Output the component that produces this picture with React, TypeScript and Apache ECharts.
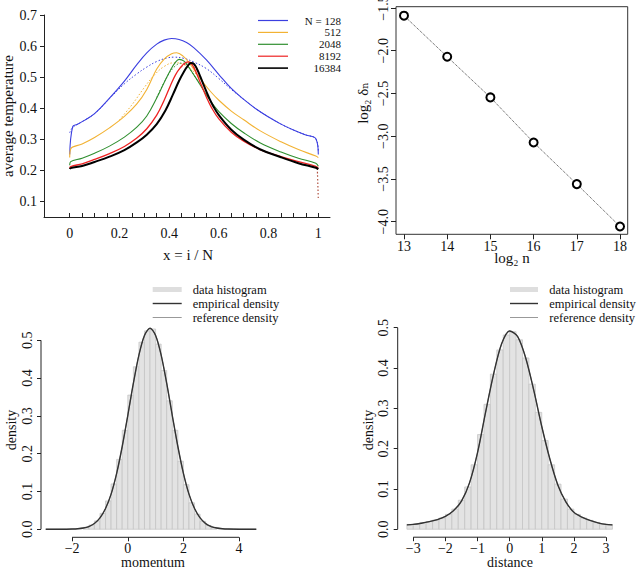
import React, { useEffect, useRef } from "react";
import * as echarts from "echarts";

const SERIF = "'Liberation Serif', 'DejaVu Serif', 'Times New Roman', serif";

// ---------- Panel A: average temperature profiles ----------
const tempLegendLabels = ["N = 128", "512", "2048", "8192", "16384"];
const tempColors = ["#3b3fe0", "#f2b233", "#2f8f2f", "#ee2222", "#000000"];
const tempXTicks = [0, 0.05, 0.1, 0.15, 0.2, 0.25, 0.3, 0.35, 0.4, 0.45, 0.5, 0.55, 0.6, 0.65, 0.7, 0.75, 0.8, 0.85, 0.9, 0.95, 1];
const tempXLabels = [0, 0.2, 0.4, 0.6, 0.8, 1];
const tempYTicks = [0.1, 0.2, 0.3, 0.4, 0.5, 0.6, 0.7];

const temp128 = [[0, 0.25], [0.012, 0.34], [0.03, 0.347], [0.05, 0.356], [0.1, 0.382], [0.16, 0.432], [0.22, 0.487], [0.27, 0.54], [0.31, 0.578], [0.35, 0.606], [0.38, 0.619], [0.41, 0.624], [0.44, 0.621], [0.47, 0.611], [0.5, 0.594], [0.55, 0.555], [0.6, 0.508], [0.65, 0.463], [0.7, 0.428], [0.75, 0.397], [0.8, 0.371], [0.85, 0.348], [0.9, 0.329], [0.95, 0.313], [0.99, 0.301], [1, 0.25]];
const temp128Ref = [[0, 0.32], [0.012, 0.337], [0.05, 0.356], [0.1, 0.382], [0.16, 0.43], [0.22, 0.478], [0.27, 0.51], [0.31, 0.532], [0.35, 0.55], [0.39, 0.561], [0.42, 0.564], [0.46, 0.56], [0.5, 0.548], [0.55, 0.527], [0.6, 0.495], [0.65, 0.46], [0.7, 0.428], [0.75, 0.397], [0.8, 0.371], [0.85, 0.348], [0.9, 0.329], [0.95, 0.313], [0.99, 0.301], [1, 0.26]];
const temp512 = [[0, 0.24], [0.004, 0.268], [0.05, 0.284], [0.1, 0.305], [0.16, 0.336], [0.22, 0.373], [0.27, 0.413], [0.31, 0.46], [0.35, 0.526], [0.38, 0.558], [0.41, 0.575], [0.43, 0.578], [0.455, 0.568], [0.48, 0.546], [0.51, 0.512], [0.54, 0.479], [0.57, 0.45], [0.6, 0.425], [0.65, 0.39], [0.7, 0.362], [0.765, 0.327], [0.85, 0.291], [0.92, 0.266], [0.99, 0.245], [1, 0.24]];
const temp512Ref = [[0.2, 0.362], [0.25, 0.41], [0.3, 0.466], [0.34, 0.506], [0.38, 0.534], [0.42, 0.546], [0.45, 0.543], [0.48, 0.53], [0.51, 0.508], [0.54, 0.478]];
const temp2048 = [[0, 0.215], [0.004, 0.227], [0.05, 0.238], [0.1, 0.254], [0.16, 0.277], [0.22, 0.306], [0.27, 0.338], [0.31, 0.374], [0.35, 0.432], [0.38, 0.482], [0.405, 0.522], [0.425, 0.547], [0.44, 0.557], [0.46, 0.551], [0.48, 0.53], [0.51, 0.494], [0.54, 0.455], [0.57, 0.418], [0.6, 0.388], [0.65, 0.35], [0.7, 0.32], [0.765, 0.288], [0.85, 0.258], [0.92, 0.238], [0.99, 0.222], [1, 0.212]];
const temp2048Ref = [[0.35, 0.434], [0.39, 0.498], [0.42, 0.532], [0.45, 0.545], [0.47, 0.54], [0.49, 0.518], [0.52, 0.48]];
const temp8192 = [[0, 0.205], [0.004, 0.211], [0.05, 0.22], [0.1, 0.234], [0.16, 0.253], [0.22, 0.276], [0.27, 0.303], [0.31, 0.333], [0.35, 0.377], [0.38, 0.425], [0.405, 0.472], [0.425, 0.506], [0.445, 0.53], [0.465, 0.546], [0.48, 0.549], [0.495, 0.537], [0.51, 0.512], [0.53, 0.473], [0.55, 0.435], [0.57, 0.402], [0.6, 0.365], [0.65, 0.322], [0.7, 0.293], [0.765, 0.266], [0.85, 0.243], [0.92, 0.227], [0.99, 0.212], [1, 0.205]];
const temp8192Ref = [[0.44, 0.524], [0.47, 0.542], [0.49, 0.54], [0.51, 0.514]];
const temp8192RefTail = [[0.996, 0.205], [1, 0.105]];
const temp16384 = [[0, 0.203], [0.004, 0.206], [0.05, 0.213], [0.1, 0.226], [0.16, 0.243], [0.22, 0.264], [0.27, 0.289], [0.31, 0.314], [0.35, 0.348], [0.385, 0.392], [0.415, 0.443], [0.44, 0.488], [0.46, 0.518], [0.475, 0.536], [0.488, 0.545], [0.5, 0.542], [0.512, 0.526], [0.525, 0.502], [0.54, 0.472], [0.558, 0.438], [0.578, 0.405], [0.6, 0.377], [0.65, 0.33], [0.7, 0.298], [0.765, 0.267], [0.85, 0.241], [0.92, 0.222], [0.99, 0.207], [1, 0.203]];

// ---------- Panel B: convergence ----------
const log2n = [13, 14, 15, 16, 17, 18];
const log2delta = [-1.59, -2.07, -2.546, -3.073, -3.56, -4.056];
const log2nTicks = [13, 14, 15, 16, 17, 18];
const log2deltaTicks = [-4, -3.5, -3, -2.5, -2, -1.5];

// ---------- Panel C: momentum ----------
const BIN_WIDTH = 0.2;
const densityTicks = [0, 0.1, 0.2, 0.3, 0.4, 0.5];
const momentumTicks = [-2, 0, 2, 4];
const momentumBinLefts = [-1.6, -1.4, -1.2, -1.0, -0.8, -0.6, -0.4, -0.2, 0, 0.2, 0.4, 0.6, 0.8, 1.0, 1.2, 1.4, 1.6, 1.8, 2.0, 2.2, 2.4, 2.6, 2.8, 3.0];
const momentumHist = [0.005, 0.011, 0.022, 0.042, 0.075, 0.12, 0.185, 0.262, 0.355, 0.43, 0.495, 0.525, 0.53, 0.49, 0.42, 0.34, 0.262, 0.18, 0.118, 0.07, 0.04, 0.021, 0.01, 0.005];
const momentumX = [-2.95, -2.6, -2.2, -2.0, -1.8, -1.6, -1.4, -1.2, -1.0, -0.8, -0.6, -0.4, -0.2, 0, 0.2, 0.4, 0.6, 0.8, 1.0, 1.2, 1.4, 1.6, 1.8, 2.0, 2.2, 2.4, 2.6, 2.8, 3.0, 3.2, 3.4, 3.6, 4.0, 4.62];
const momentumDensity = [0, 0, 0.0002, 0.0005, 0.0013, 0.0032, 0.0072, 0.0152, 0.03, 0.055, 0.093, 0.148, 0.219, 0.301, 0.386, 0.461, 0.513, 0.532, 0.513, 0.461, 0.386, 0.301, 0.219, 0.148, 0.093, 0.055, 0.03, 0.015, 0.0072, 0.0032, 0.0013, 0.0005, 0.0001, 0];

// ---------- Panel D: distance ----------
const distanceTicks = [-3, -2, -1, 0, 1, 2, 3];
const distanceBinLefts = [-3.2, -3.0, -2.8, -2.6, -2.4, -2.2, -2.0, -1.8, -1.6, -1.4, -1.2, -1.0, -0.8, -0.6, -0.4, -0.2, 0, 0.2, 0.4, 0.6, 0.8, 1.0, 1.2, 1.4, 1.6, 1.8, 2.0, 2.2, 2.4, 2.6, 2.8, 3.0];
const distanceHist = [0.012, 0.013, 0.016, 0.019, 0.023, 0.028, 0.037, 0.05, 0.072, 0.105, 0.16, 0.235, 0.31, 0.385, 0.445, 0.482, 0.49, 0.47, 0.425, 0.36, 0.29, 0.22, 0.16, 0.112, 0.075, 0.05, 0.037, 0.028, 0.022, 0.017, 0.013, 0.011];
const distanceX = [-3.2, -3.0, -2.75, -2.5, -2.25, -2.0, -1.75, -1.5, -1.25, -1.0, -0.75, -0.5, -0.25, 0, 0.25, 0.5, 0.75, 1.0, 1.25, 1.5, 1.75, 2.0, 2.25, 2.5, 2.75, 3.0, 3.2];
const distanceDensity = [0.011, 0.012, 0.015, 0.019, 0.024, 0.032, 0.046, 0.07, 0.115, 0.19, 0.29, 0.385, 0.46, 0.492, 0.478, 0.425, 0.345, 0.255, 0.175, 0.11, 0.068, 0.042, 0.03, 0.022, 0.016, 0.012, 0.011];

const histLegendLabels = ["data histogram", "empirical density", "reference density"];

// axis ranges
const A = { xMin: -0.1034, xMax: 1.047, yMin: 0.0484, yMax: 0.7 };
const B = { xMin: 12.815, xMax: 18.178, yMin: -4.147, yMax: -1.485 };
const C = { xMin: -3.12, xMax: 4.8, yMin: -0.0213, yMax: 0.553 };
const D = { xMin: -3.486, xMax: 3.486, yMin: -0.0197, yMax: 0.5117 };

const minus = (s: string) => s.replace(/-/g, "\u2212");
const txt = { color: "#111", fontFamily: SERIF, fontSize: 14 };
const axisColor = "#222";

function histSeries(lefts: number[], heights: number[], xi: number) {
  return {
    type: "custom",
    xAxisIndex: xi,
    yAxisIndex: xi,
    silent: true,
    data: lefts.map((l, i) => [l, l + BIN_WIDTH, heights[i]]),
    encode: { x: [0, 1], y: 2 },
    renderItem: (params: any, api: any) => {
      const p0 = api.coord([api.value(0), api.value(2)]);
      const p1 = api.coord([api.value(1), 0]);
      return {
        type: "rect",
        shape: { x: p0[0], y: p0[1], width: p1[0] - p0[0], height: p1[1] - p0[1] },
        style: { fill: "#e3e3e3", stroke: "#c2c2c2", lineWidth: 0.7 },
      };
    },
    z: 1,
  };
}

function curveSeries(xs: number[], ys: number[], xi: number, color: string, width: number, z: number) {
  return {
    type: "line",
    xAxisIndex: xi,
    yAxisIndex: xi,
    data: xs.map((x, i) => [x, ys[i]]),
    symbol: "none",
    smooth: 0.3,
    silent: true,
    lineStyle: { color, width },
    z,
  };
}

function axisLineSeries(xi: number, data: number[][]) {
  return {
    type: "line",
    xAxisIndex: xi,
    yAxisIndex: xi,
    data,
    symbol: "none",
    clip: false,
    silent: true,
    lineStyle: { color: axisColor, width: 1 },
    z: 5,
  };
}

function tempLine(data: number[][], color: string, width: number, dotted: boolean, z: number) {
  return {
    type: "line",
    xAxisIndex: 0,
    yAxisIndex: 0,
    data,
    symbol: "none",
    smooth: 0.4,
    silent: true,
    lineStyle: dotted
      ? { color, width, type: [1.5, 2] }
      : { color, width, type: "solid", join: "round" },
    z,
  };
}

const legendGraphics: any[] = [];
tempLegendLabels.forEach((label, i) => {
  const y = 20.5 + i * 11.9;
  legendGraphics.push({
    type: "line",
    shape: { x1: 258, y1: y, x2: 288, y2: y },
    style: { stroke: tempColors[i], lineWidth: i === 4 ? 1.6 : 1.2 },
  });
  legendGraphics.push({
    type: "text",
    x: 341,
    y,
    style: { text: label, fill: "#111", font: `11px ${SERIF}`, lineHeight: 11, align: "right", verticalAlign: "middle" },
  });
});
const histLegendStyles = [
  { stroke: "#dedede", lineWidth: 5 },
  { stroke: "#333333", lineWidth: 1.4 },
  { stroke: "#999999", lineWidth: 1 },
];
[[152.7, 181.7, 192.7], [510, 538, 549.3]].forEach(([x1, x2, tx]) => {
  histLegendLabels.forEach((label, i) => {
    const y = 289.5 + i * 14;
    legendGraphics.push({ type: "line", shape: { x1, y1: y, x2, y2: y }, style: histLegendStyles[i] });
    legendGraphics.push({
      type: "text",
      x: tx,
      y,
      style: { text: label, fill: "#111", font: `12.5px ${SERIF}`, lineHeight: 12, align: "left", verticalAlign: "middle" },
    });
  });
});

const titles = [
  { text: "average temperature", x: 7.5, y: 116, rot: Math.PI / 2, size: 15 },
  { text: "x = i / N", x: 188, y: 255, rot: 0, size: 15 },
  { text: "log\u2082 \u03b4\u2099", x: 363, y: 103, rot: Math.PI / 2, size: 15 },
  { text: "log\u2082 n", x: 512, y: 258, rot: 0, size: 15 },
  { text: "density", x: 11.5, y: 430, rot: Math.PI / 2, size: 14 },
  { text: "momentum", x: 153, y: 562.5, rot: 0, size: 14 },
  { text: "density", x: 368, y: 430, rot: Math.PI / 2, size: 14 },
  { text: "distance", x: 510, y: 562.5, rot: 0, size: 14 },
];
const titleGraphics = titles.map((t) => ({
  type: "text",
  x: t.x,
  y: t.y,
  rotation: t.rot,
  style: { text: t.text, fill: "#111", font: `${t.size}px ${SERIF}`, align: "center", verticalAlign: "middle" },
}));

const gridBase = { containLabel: false, outerBoundsMode: "none" };

const option: any = {
  animation: false,
  backgroundColor: "#ffffff",
  grid: [
    { ...gridBase, left: 44, top: 15, width: 286, height: 202 },
    { ...gridBase, left: 396, top: 6.7, width: 231.7, height: 227.6, show: true, borderColor: "#333", borderWidth: 1 },
    { ...gridBase, left: 41, top: 320.3, width: 220.3, height: 217 },
    { ...gridBase, left: 397.7, top: 323, width: 223.9, height: 214.2 },
  ],
  xAxis: [
    {
      gridIndex: 0, type: "value", min: A.xMin, max: A.xMax,
      axisLine: { show: true, onZero: false, lineStyle: { color: axisColor } },
      axisTick: { show: true, inside: true, length: 4, customValues: tempXTicks, lineStyle: { color: axisColor } },
      axisLabel: { ...txt, margin: 9, customValues: tempXLabels, formatter: (v: number) => String(v) },
      splitLine: { show: false },
    },
    {
      gridIndex: 1, type: "value", min: B.xMin, max: B.xMax,
      axisLine: { show: false, onZero: false },
      axisTick: { show: true, length: 5, customValues: log2nTicks, lineStyle: { color: axisColor } },
      axisLabel: { ...txt, margin: 5, customValues: log2nTicks, formatter: (v: number) => String(v) },
      splitLine: { show: false },
    },
    {
      gridIndex: 2, type: "value", min: C.xMin, max: C.xMax,
      axisLine: { show: false, onZero: false },
      axisTick: { show: true, length: 4, customValues: momentumTicks, lineStyle: { color: axisColor } },
      axisLabel: { ...txt, margin: 4, customValues: momentumTicks, formatter: (v: number) => minus(String(v)) },
      splitLine: { show: false },
    },
    {
      gridIndex: 3, type: "value", min: D.xMin, max: D.xMax,
      axisLine: { show: false, onZero: false },
      axisTick: { show: true, length: 4, customValues: distanceTicks, lineStyle: { color: axisColor } },
      axisLabel: { ...txt, margin: 4, customValues: distanceTicks, formatter: (v: number) => minus(String(v)) },
      splitLine: { show: false },
    },
  ],
  yAxis: [
    {
      gridIndex: 0, type: "value", min: A.yMin, max: A.yMax,
      axisLine: { show: true, onZero: false, lineStyle: { color: axisColor } },
      axisTick: { show: true, length: 4, customValues: tempYTicks, lineStyle: { color: axisColor } },
      axisLabel: { ...txt, margin: 7, customValues: tempYTicks, formatter: (v: number) => v.toFixed(1) },
      splitLine: { show: false },
    },
    {
      gridIndex: 1, type: "value", min: B.yMin, max: B.yMax,
      axisLine: { show: false, onZero: false },
      axisTick: { show: true, length: 5, customValues: log2deltaTicks, lineStyle: { color: axisColor } },
      axisLabel: { ...txt, margin: 6, rotate: 90, customValues: log2deltaTicks, formatter: (v: number) => minus(v.toFixed(1)) },
      splitLine: { show: false },
    },
    {
      gridIndex: 2, type: "value", min: C.yMin, max: C.yMax,
      axisLine: { show: false, onZero: false },
      axisTick: { show: true, length: 4, customValues: densityTicks, lineStyle: { color: axisColor } },
      axisLabel: { ...txt, margin: 7, rotate: 90, customValues: densityTicks, formatter: (v: number) => v.toFixed(1) },
      splitLine: { show: false },
    },
    {
      gridIndex: 3, type: "value", min: D.yMin, max: D.yMax,
      axisLine: { show: false, onZero: false },
      axisTick: { show: true, length: 4, customValues: densityTicks, lineStyle: { color: axisColor } },
      axisLabel: { ...txt, margin: 7, rotate: 90, customValues: densityTicks, formatter: (v: number) => v.toFixed(1) },
      splitLine: { show: false },
    },
  ],
  series: [
    // Panel A
    tempLine(temp128Ref, tempColors[0], 1, true, 2),
    tempLine(temp512Ref, tempColors[1], 1, true, 2),
    tempLine(temp2048Ref, tempColors[2], 1, true, 2),
    tempLine(temp8192Ref, tempColors[3], 1, true, 2),
    tempLine(temp8192RefTail, "#b05040", 1.2, true, 2),
    tempLine(temp128, tempColors[0], 1.1, false, 3),
    tempLine(temp512, tempColors[1], 1.1, false, 3),
    tempLine(temp2048, tempColors[2], 1.1, false, 3),
    tempLine(temp8192, tempColors[3], 1.3, false, 3),
    tempLine(temp16384, tempColors[4], 2, false, 4),
    // Panel B
    {
      type: "line",
      xAxisIndex: 1,
      yAxisIndex: 1,
      data: log2n.map((n, i) => [n, log2delta[i]]),
      symbol: "emptyCircle",
      symbolSize: 8,
      silent: true,
      itemStyle: { color: "#000", borderColor: "#000", borderWidth: 1.5 },
      lineStyle: { color: "#444", width: 1, type: "dotted" },
    },
    // Panel C
    histSeries(momentumBinLefts, momentumHist, 2),
    curveSeries(momentumX, momentumDensity, 2, "#999999", 1, 2),
    curveSeries(momentumX, momentumDensity, 2, "#333333", 1.4, 3),
    axisLineSeries(2, [[C.xMin, 0], [C.xMin, 0.5]]),
    axisLineSeries(2, [[-2, C.yMin], [4, C.yMin]]),
    // Panel D
    histSeries(distanceBinLefts, distanceHist, 3),
    curveSeries(distanceX, distanceDensity, 3, "#999999", 1, 2),
    curveSeries(distanceX, distanceDensity, 3, "#333333", 1.4, 3),
    axisLineSeries(3, [[D.xMin, 0], [D.xMin, 0.5]]),
    axisLineSeries(3, [[-3, D.yMin], [3, D.yMin]]),
  ],
  graphic: [...legendGraphics, ...titleGraphics],
};

export default function App() {
  const ref = useRef<HTMLDivElement>(null);
  useEffect(() => {
    if (!ref.current) return;
    const chart = echarts.init(ref.current, null, { renderer: "svg" });
    chart.setOption(option);
    return () => chart.dispose();
  }, []);
  return <div ref={ref} style={{ position: "fixed", left: 0, top: 0, width: 642, height: 570, background: "#fff" }} />;
}
